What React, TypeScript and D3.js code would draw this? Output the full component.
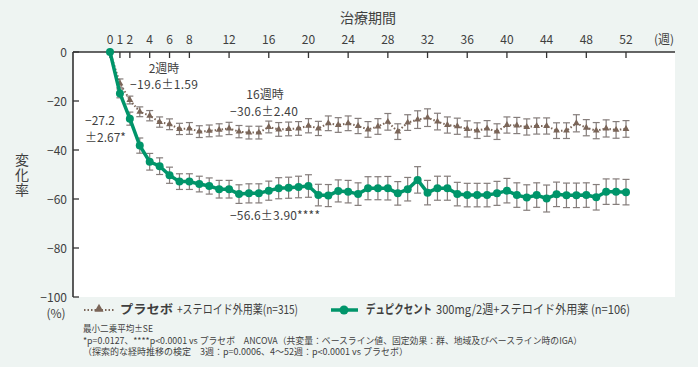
import * as d3 from "d3";

const weeks = [
  0, 1, 2, 3, 4, 5, 6, 7, 8, 9, 10, 11, 12, 13, 14, 15, 16, 17, 18, 19, 20,
  21, 22, 23, 24, 25, 26, 27, 28, 29, 30, 31, 32, 33, 34, 35, 36, 37, 38, 39,
  40, 41, 42, 43, 44, 45, 46, 47, 48, 49, 50, 51, 52,
];

// プラセボ + ステロイド外用薬
const placeboMean = [
  0, -12.8, -19.6, -24.4, -26.0, -28.6, -29.5, -31.4, -31.2, -32.5, -32.2,
  -31.8, -31.2, -32.5, -32.9, -32.9, -30.6, -31.6, -31.4, -31.2, -30.1,
  -31.2, -29.1, -29.8, -29.1, -30.2, -31.6, -30.4, -28.5, -32.5, -28.8,
  -27.6, -26.8, -28.4, -29.8, -30.3, -31.4, -32.1, -31.2, -32.5, -29.8,
  -30.0, -30.6, -30.2, -30.2, -32.1, -32.1, -29.1, -30.9, -32.1, -31.2,
  -31.8, -31.4,
];
const placeboSE = [
  0, 1.8, 1.59, 2.0, 2.1, 2.1, 2.2, 2.3, 2.4, 2.4, 2.4, 2.5, 2.5, 2.5, 2.6,
  2.6, 2.4, 2.8, 2.8, 2.8, 2.9, 2.9, 3.0, 3.0, 3.0, 3.1, 3.2, 3.2, 3.4, 3.2,
  3.2, 3.6, 3.6, 3.4, 3.3, 3.3, 3.3, 3.2, 3.2, 3.2, 3.3, 3.3, 3.3, 3.3, 3.3,
  3.2, 3.2, 3.5, 3.3, 3.3, 3.5, 3.4, 3.4,
];

// デュピクセント 300mg/2週 + ステロイド外用薬
const dupiMean = [
  0, -16.9, -27.2, -38.2, -44.8, -46.6, -50.3, -52.9, -52.9, -53.9, -54.7,
  -56.0, -56.0, -58.0, -57.7, -57.7, -56.6, -55.6, -55.4, -55.1, -54.7,
  -58.4, -58.6, -56.7, -57.0, -58.0, -55.6, -55.6, -55.6, -57.7, -56.0,
  -52.2, -57.4, -55.6, -55.6, -58.0, -58.4, -58.4, -58.4, -57.7, -56.6,
  -58.4, -59.4, -58.4, -59.8, -58.1, -58.5, -58.5, -58.4, -59.3, -57.0,
  -57.0, -57.2,
];
const dupiSE = [
  0, 1.8, 2.67, 3.1, 3.4, 3.4, 3.3, 3.2, 3.2, 3.2, 3.3, 3.6, 3.6, 3.8, 3.9,
  3.9, 3.9, 4.3, 4.3, 4.4, 4.6, 4.4, 4.5, 4.5, 4.6, 4.6, 4.7, 4.7, 4.8, 4.8,
  4.8, 5.4, 5.0, 4.9, 4.9, 4.8, 4.8, 4.8, 4.8, 4.9, 5.0, 5.0, 5.2, 5.0, 5.5,
  5.0, 5.0, 5.0, 5.0, 5.2, 5.2, 5.2, 5.2,
];

const xTicks = [0, 1, 2, 4, 6, 8, 12, 16, 20, 24, 28, 32, 36, 40, 44, 48, 52];
const yTicks = [0, -20, -40, -60, -80, -100];

const W = 698;
const H = 367;
const plot = { left: 73, right: 675, top: 52, bottom: 297 };
const GREEN = "#00956a";
const BROWN = "#7a6558";
const BAR = "#857d7b";
const TEXT = "#3f3f3f";
const FONT = "'Noto Sans CJK JP', 'Noto Sans', sans-serif";

export default function App() {
  const x = d3.scaleLinear().domain([0, 52]).range([110, 626]);
  const y = d3.scaleLinear().domain([-100, 0]).range([plot.bottom, plot.top]);

  const line = d3
    .line<number>()
    .x((_, i) => x(weeks[i]))
    .y((d) => y(d));

  const tri = d3.symbol(d3.symbolTriangle, 20)()!;

  // error bars (±SE) with caps
  const errorBars = (mean: number[], se: number[], key: string) =>
    weeks.map((w, i) => {
      if (se[i] === 0) return null;
      const cx = x(w);
      const y1 = y(mean[i] + se[i]);
      const y2 = y(mean[i] - se[i]);
      return (
        <g key={key + i} stroke={BAR} strokeWidth={1.2}>
          <line x1={cx} x2={cx} y1={y1} y2={y2} />
          <line x1={cx - 3.5} x2={cx + 3.5} y1={y1} y2={y1} />
          <line x1={cx - 3.5} x2={cx + 3.5} y1={y2} y2={y2} />
        </g>
      );
    });

  return (
    <svg
      width={W}
      height={H}
      style={{ position: "absolute", left: 0, top: 0 }}
      fontFamily={FONT}
    >
      <rect width={W} height={H} fill="#eef4f2" />
      <rect
        x={plot.left}
        y={plot.top}
        width={plot.right - plot.left}
        height={plot.bottom - plot.top}
        fill="#fff"
      />

      {/* axis title + top ticks */}
      <text x={368} y={23} fontSize={14} fill={TEXT} textAnchor="middle">
        治療期間
      </text>
      {xTicks.map((t) => (
        <g key={"xt" + t}>
          <line
            x1={x(t)}
            x2={x(t)}
            y1={plot.top}
            y2={plot.top + 6}
            stroke="#333"
            strokeWidth={1.3}
          />
          <text x={x(t)} y={44} fontSize={12} fill={TEXT} textAnchor="middle">
            {t}
          </text>
        </g>
      ))}
      <text x={664} y={44} fontSize={12} fill={TEXT} textAnchor="middle">
        (週)
      </text>

      {/* left ticks */}
      {yTicks.map((t) => (
        <g key={"yt" + t}>
          <line
            x1={plot.left}
            x2={plot.left + 6}
            y1={y(t)}
            y2={y(t)}
            stroke="#333"
            strokeWidth={1.3}
          />
          <text
            x={67}
            y={y(t) + 4.5}
            fontSize={12}
            fill={TEXT}
            textAnchor="end"
          >
            {d3.format("d")(t)}
          </text>
        </g>
      ))}
      <text x={56} y={318} fontSize={12} fill={TEXT} textAnchor="middle">
        (%)
      </text>
      <text
        x={22}
        y={153}
        fontSize={14}
        fill={TEXT}
        letterSpacing={1}
        style={{ writingMode: "vertical-rl" }}
      >
        変化率
      </text>

      {/* axis lines */}
      <line
        x1={plot.left}
        x2={plot.right}
        y1={plot.top}
        y2={plot.top}
        stroke="#333"
        strokeWidth={1.6}
      />
      <line
        x1={plot.left}
        x2={plot.left}
        y1={plot.top}
        y2={plot.bottom}
        stroke="#333"
        strokeWidth={1.6}
      />

      {/* placebo */}
      {errorBars(placeboMean, placeboSE, "pb")}
      <path
        d={line(placeboMean)!}
        fill="none"
        stroke={BROWN}
        strokeWidth={2}
        strokeDasharray="1.5 2"
      />
      {weeks.map((w, i) => (
        <path
          key={"pm" + i}
          d={tri}
          transform={`translate(${x(w)},${y(placeboMean[i])})`}
          fill={BROWN}
        />
      ))}

      {/* dupilumab */}
      {errorBars(dupiMean, dupiSE, "db")}
      <path
        d={line(dupiMean)!}
        fill="none"
        stroke={GREEN}
        strokeWidth={3.5}
        strokeLinejoin="round"
      />
      {weeks.map((w, i) => (
        <circle
          key={"dm" + i}
          cx={x(w)}
          cy={y(dupiMean[i])}
          r={4}
          fill={GREEN}
        />
      ))}

      {/* annotations */}
      <g fontSize={12} fill={TEXT}>
        <text x={164} y={73} textAnchor="middle">
          2週時
        </text>
        <text x={164} y={89} textAnchor="middle" textLength={68}>
          −19.6±1.59
        </text>
        <text x={265} y={99} textAnchor="middle">
          16週時
        </text>
        <text x={264} y={116} textAnchor="middle" textLength={68}>
          −30.6±2.40
        </text>
        <text x={85} y={125}>
          −27.2
        </text>
        <text x={85} y={142}>
          ±2.67*
        </text>
        <text x={275} y={220} textAnchor="middle" textLength={90}>
          −56.6±3.90****
        </text>
      </g>

      {/* legend */}
      <line
        x1={84}
        x2={114}
        y1={310}
        y2={310}
        stroke={BROWN}
        strokeWidth={2}
        strokeDasharray="1.5 2"
      />
      <path
        d={d3.symbol(d3.symbolTriangle, 36)()!}
        transform="translate(99,309)"
        fill={BROWN}
      />
      <g fontSize={12.5} fill={TEXT}>
        <text
          x={120}
          y={314}
          fontWeight="bold"
          textLength={53}
          lengthAdjust="spacingAndGlyphs"
        >
          プラセボ
        </text>
        <text x={177} y={314} textLength={121} lengthAdjust="spacingAndGlyphs">
          +ステロイド外用薬(n=315)
        </text>
      </g>
      <line
        x1={331}
        x2={358}
        y1={310}
        y2={310}
        stroke={GREEN}
        strokeWidth={3.5}
      />
      <circle cx={344} cy={310} r={4.5} fill={GREEN} />
      <g fontSize={12.5} fill={TEXT}>
        <text
          x={366}
          y={314}
          fontWeight="bold"
          textLength={66}
          lengthAdjust="spacingAndGlyphs"
        >
          デュピクセント
        </text>
        <text x={436} y={314} textLength={194} lengthAdjust="spacingAndGlyphs">
          300mg/2週+ステロイド外用薬 (n=106)
        </text>
      </g>

      {/* footnotes */}
      <g fontSize={9} fill={TEXT}>
        <text x={83} y={332} textLength={70} lengthAdjust="spacingAndGlyphs">
          最小二乗平均±SE
        </text>
        <text x={83} y={343.5} textLength={499} lengthAdjust="spacingAndGlyphs">
          *p=0.0127、****p&lt;0.0001 vs プラセボ　ANCOVA（共変量：ベースライン値、固定効果：群、地域及びベースライン時のIGA）
        </text>
        <text x={83} y={355} textLength={325} lengthAdjust="spacingAndGlyphs">
          （探索的な経時推移の検定　3週：p=0.0006、4～52週：p&lt;0.0001 vs プラセボ）
        </text>
      </g>
    </svg>
  );
}
